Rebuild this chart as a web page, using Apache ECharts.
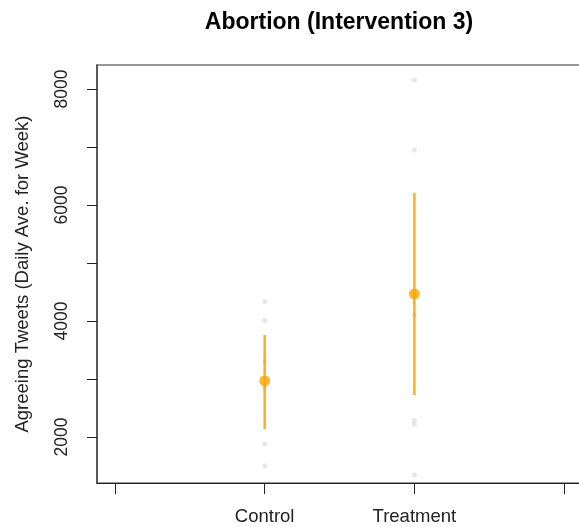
<!DOCTYPE html>
<html>
<head>
<meta charset="utf-8">
<script src="https://cdn.jsdelivr.net/npm/echarts@6/dist/echarts.min.js"></script>
<style>
  html, body { margin: 0; padding: 0; background: #fff; }
  #chart { width: 579px; height: 527px; }
</style>
</head>
<body>
<div id="chart"></div>
<script>
// Groups and their x positions
const groups = ['Control', 'Treatment'];
const groupPos = [1, 2];

// Weekly daily-average values per group (individual observations)
const controlObs = [4330, 4010, 3300, 2850, 1880, 1500];
const treatmentObs = [8155, 6950, 4100, 2290, 2220, 1350];

// Group means and interval bounds
const means = [2966, 4466];
const lower = [2138, 2724];
const upper = [3759, 6207];

// Axis ticks
const yTicks = [2000, 3000, 4000, 5000, 6000, 7000, 8000];
const yLabels = [2000, 4000, 6000, 8000];
const xTicks = [0, 1, 2, 3];

const ORANGE = '#FFA500';
const FONT = 'Liberation Sans, Arial, sans-serif';

const obsData = [];
controlObs.forEach(v => obsData.push([groupPos[0], v]));
treatmentObs.forEach(v => obsData.push([groupPos[1], v]));

const barData = groupPos.map((x, i) => [x, lower[i], upper[i]]);
const meanData = groupPos.map((x, i) => [x, means[i]]);

const chart = echarts.init(document.getElementById('chart'), null, { renderer: 'canvas' });

chart.setOption({
  animation: false,
  title: {
    text: 'Abortion (Intervention 3)',
    left: 334,
    textAlign: 'center',
    top: 6,
    textStyle: { fontFamily: FONT, fontSize: 23, fontWeight: 'bold', color: '#000' }
  },
  grid: {
    left: 97, top: 65, width: 497, height: 418,
    outerBoundsMode: 'none',
    containLabel: false,
    show: true, borderColor: '#777', borderWidth: 1.5, backgroundColor: 'transparent'
  },
  xAxis: {
    type: 'value',
    min: -0.12, max: 3.2,
    splitLine: { show: false },
    axisLine: { show: true, onZero: false, lineStyle: { color: '#222', width: 1 } },
    axisTick: { show: true, customValues: xTicks, length: 11, lineStyle: { color: '#222' } },
    axisLabel: {
      show: true,
      customValues: groupPos,
      formatter: v => groups[groupPos.indexOf(Math.round(v))] || '',
      margin: 24,
      fontFamily: FONT, fontSize: 18.5, color: '#222'
    }
  },
  yAxis: {
    type: 'value',
    min: 1207, max: 8414,
    name: 'Agreeing Tweets (Daily Ave. for Week)',
    nameLocation: 'middle',
    nameGap: 65,
    nameTextStyle: { fontFamily: FONT, fontSize: 18.5, color: '#222' },
    splitLine: { show: false },
    axisLine: { show: true, onZero: false, lineStyle: { color: '#444', width: 1.5 } },
    axisTick: { show: true, customValues: yTicks, length: 10, lineStyle: { color: '#222' } },
    axisLabel: {
      show: true,
      customValues: yLabels,
      rotate: 90,
      margin: 26,
      formatter: v => String(v),
      fontFamily: FONT, fontSize: 17.5, color: '#222'
    }
  },
  series: [
    {
      type: 'scatter',
      data: obsData,
      symbol: 'circle',
      symbolSize: 5,
      itemStyle: { color: 'rgba(200,200,205,0.55)' },
      z: 1
    },
    {
      type: 'custom',
      data: barData,
      renderItem: function (params, api) {
        const x = api.value(0);
        const lo = api.coord([x, api.value(1)]);
        const hi = api.coord([x, api.value(2)]);
        return {
          type: 'line',
          shape: { x1: lo[0], y1: lo[1], x2: hi[0], y2: hi[1] },
          style: { stroke: ORANGE, lineWidth: 2.5, opacity: 0.9 }
        };
      },
      z: 2
    },
    {
      type: 'scatter',
      data: meanData,
      symbol: 'circle',
      symbolSize: 11,
      itemStyle: { color: ORANGE },
      z: 3
    }
  ]
});
</script>
</body>
</html>
